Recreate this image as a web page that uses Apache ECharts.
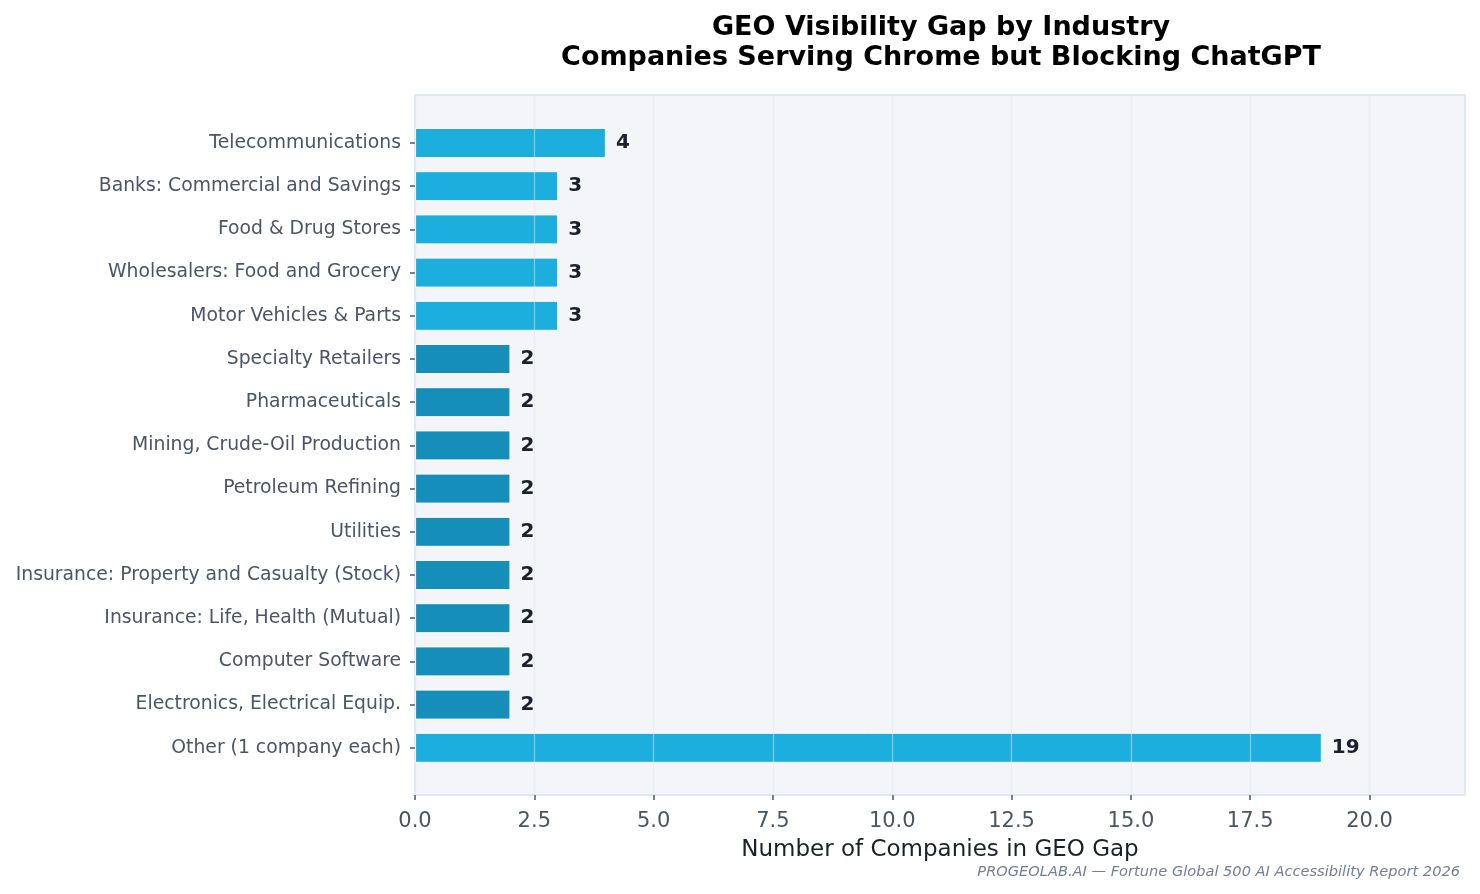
<!DOCTYPE html>
<html>
<head>
<meta charset="utf-8">
<script src="https://cdn.jsdelivr.net/npm/echarts@6/dist/echarts.min.js"></script>
<style>
html,body{margin:0;padding:0;background:#fff;}
#c{width:1480px;height:894px;}
</style>
</head>
<body>
<div id="c"></div>
<script>
const categories = [
  "Telecommunications",
  "Banks: Commercial and Savings",
  "Food & Drug Stores",
  "Wholesalers: Food and Grocery",
  "Motor Vehicles & Parts",
  "Specialty Retailers",
  "Pharmaceuticals",
  "Mining, Crude-Oil Production",
  "Petroleum Refining",
  "Utilities",
  "Insurance: Property and Casualty (Stock)",
  "Insurance: Life, Health (Mutual)",
  "Computer Software",
  "Electronics, Electrical Equip.",
  "Other (1 company each)"
];
const companies = [4, 3, 3, 3, 3, 2, 2, 2, 2, 2, 2, 2, 2, 2, 19];
const xTickMax = 20;   // last labelled tick
const xAxisMax = 22;

const FONT = "DejaVu Sans";
const LIGHT = "#1CAEDC";
const DARK = "#168EBA";

const chart = echarts.init(document.getElementById('c'));
chart.setOption({
  animation: false,
  backgroundColor: '#ffffff',
  title: [
    {
      text: 'GEO Visibility Gap by Industry\nCompanies Serving Chrome but Blocking ChatGPT',
      left: 936, top: 8, textAlign: 'center',
      textStyle: {fontFamily: FONT, fontWeight: 'bold', fontSize: 27, lineHeight: 30, color: '#000000'}
    },
    {
      text: 'PROGEOLAB.AI — Fortune Global 500 AI Accessibility Report 2026',
      right: 15, top: 860,
      textStyle: {fontFamily: FONT, fontStyle: 'italic', fontWeight: 'normal', fontSize: 14.6, color: '#718096'}
    }
  ],
  grid: [
    {left: 415, right: 15, top: 95, bottom: 99, show: true, backgroundColor: '#F4F5F9', borderColor: '#E2E8F0', borderWidth: 1.8},
    {left: 415, right: 15, top: 121.4, height: 648}
  ],
  xAxis: [
    {
      gridIndex: 0, type: 'value', min: 0, max: xAxisMax, interval: 2.5, z: 3,
      name: 'Number of Companies in GEO Gap', nameLocation: 'middle', nameGap: 44,
      nameTextStyle: {fontFamily: FONT, fontSize: 23, color: '#1A202C'},
      axisLine: {show: false},
      axisTick: {show: true, length: 5, lineStyle: {color: '#718096', width: 2}},
      axisLabel: {fontFamily: FONT, fontSize: 21, color: '#4A5568', margin: 16, showMaxLabel: false,
        formatter: v => (v > xTickMax ? '' : v.toFixed(1))},
      splitLine: {show: true, lineStyle: {color: 'rgba(226,232,240,0.5)', width: 1.3}}
    },
    {
      gridIndex: 1, type: 'value', min: 0, max: xAxisMax,
      axisLine: {show: false}, axisTick: {show: false}, axisLabel: {show: false}, splitLine: {show: false}
    }
  ],
  yAxis: [
    {
      gridIndex: 1, type: 'category', data: categories, inverse: true,
      axisLine: {show: false},
      axisTick: {show: true, alignWithLabel: true, length: 5, lineStyle: {color: '#718096', width: 2}},
      axisLabel: {fontFamily: FONT, fontSize: 18.8, color: '#4A5568', margin: 14, padding: [4, 0, 0, 0]},
      splitLine: {show: false}
    },
    {
      gridIndex: 0, type: 'value', show: false
    }
  ],
  series: [{
    type: 'bar', xAxisIndex: 1, yAxisIndex: 0,
    data: companies, barWidth: 30,
    itemStyle: {
      color: p => (p.value >= 3 ? LIGHT : DARK),
      borderColor: '#ffffff', borderWidth: 1
    },
    label: {show: true, position: 'right', distance: 10, padding: [3, 0, 0, 0],
      fontFamily: FONT, fontWeight: 'bold', fontSize: 20, color: '#1A202C'}
  }]
});
</script>
</body>
</html>
